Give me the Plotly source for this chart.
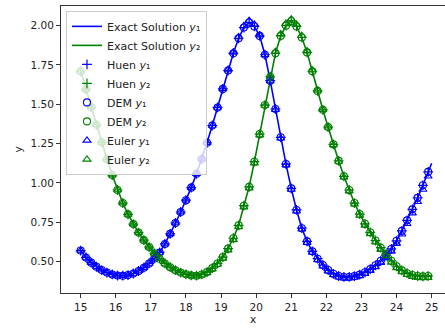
import plotly.graph_objects as go

# marker grid (step 0.15)
x_pts = [15.0, 15.15, 15.3, 15.45, 15.6, 15.75, 15.9, 16.05, 16.2, 16.35,
         16.5, 16.65, 16.8, 16.95, 17.1, 17.25, 17.4, 17.55, 17.7, 17.85,
         18.0, 18.15, 18.3, 18.45, 18.6, 18.75, 18.9, 19.05, 19.2, 19.35,
         19.5, 19.65, 19.8, 19.95, 20.1, 20.25, 20.4, 20.55, 20.7, 20.85,
         21.0, 21.15, 21.3, 21.45, 21.6, 21.75, 21.9, 22.05, 22.2, 22.35,
         22.5, 22.65, 22.8, 22.95, 23.1, 23.25, 23.4, 23.55, 23.7, 23.85,
         24.0, 24.15, 24.3, 24.45, 24.6, 24.75, 24.9]

y1_vals = [0.570, 0.526, 0.493, 0.467, 0.446, 0.430, 0.418, 0.411, 0.410, 0.414,
           0.424, 0.440, 0.461, 0.488, 0.520, 0.558, 0.612, 0.676, 0.745, 0.815,
           0.890, 0.970, 1.058, 1.152, 1.255, 1.365, 1.480, 1.598, 1.715, 1.825,
           1.920, 1.988, 2.020, 1.995, 1.935, 1.815, 1.650, 1.470, 1.290, 1.120,
           0.965, 0.828, 0.712, 0.628, 0.565, 0.518, 0.478, 0.446, 0.422, 0.408,
           0.402, 0.402, 0.407, 0.417, 0.432, 0.452, 0.476, 0.505, 0.540, 0.580,
           0.632, 0.695, 0.762, 0.832, 0.905, 0.985, 1.070]

y2_vals = [1.710, 1.595, 1.482, 1.370, 1.258, 1.150, 1.050, 0.955, 0.872, 0.800,
           0.738, 0.684, 0.636, 0.592, 0.552, 0.518, 0.488, 0.464, 0.445, 0.430,
           0.419, 0.412, 0.410, 0.418, 0.433, 0.458, 0.488, 0.528, 0.582, 0.648,
           0.730, 0.855, 0.975, 1.135, 1.310, 1.495, 1.675, 1.825, 1.935, 2.000,
           2.030, 1.995, 1.925, 1.830, 1.710, 1.585, 1.465, 1.355, 1.245, 1.140,
           1.042, 0.955, 0.872, 0.802, 0.740, 0.686, 0.634, 0.588, 0.547, 0.505,
           0.470, 0.444, 0.426, 0.414, 0.408, 0.406, 0.408]

euler_y1 = [0.570, 0.526, 0.493, 0.467, 0.446, 0.430, 0.418, 0.411, 0.410, 0.414,
            0.424, 0.440, 0.461, 0.488, 0.520, 0.558, 0.612, 0.676, 0.745, 0.815,
            0.890, 0.970, 1.058, 1.152, 1.255, 1.365, 1.480, 1.598, 1.718, 1.830,
            1.928, 1.998, 2.032, 2.008, 1.940, 1.815, 1.648, 1.466, 1.284, 1.113,
            0.958, 0.820, 0.705, 0.620, 0.558, 0.510, 0.470, 0.438, 0.414, 0.400,
            0.394, 0.394, 0.399, 0.409, 0.423, 0.442, 0.465, 0.493, 0.526, 0.565,
            0.614, 0.674, 0.740, 0.808, 0.880, 0.958, 1.042]

euler_y2 = [1.710, 1.595, 1.482, 1.370, 1.258, 1.150, 1.050, 0.955, 0.872, 0.800,
            0.738, 0.684, 0.636, 0.592, 0.552, 0.518, 0.488, 0.464, 0.445, 0.430,
            0.418, 0.410, 0.407, 0.414, 0.428, 0.452, 0.481, 0.520, 0.572, 0.638,
            0.720, 0.845, 0.966, 1.126, 1.304, 1.492, 1.678, 1.834, 1.948, 2.014,
            2.042, 2.008, 1.936, 1.838, 1.716, 1.588, 1.466, 1.354, 1.242, 1.136,
            1.036, 0.948, 0.864, 0.793, 0.730, 0.676, 0.623, 0.576, 0.535, 0.494,
            0.460, 0.434, 0.416, 0.404, 0.398, 0.396, 0.397]

# exact solution: marker grid plus the final end point
exact_x = x_pts + [25.0]
exact_y1 = y1_vals + [1.125]
exact_y2 = y2_vals + [0.410]

x_ticks = [15, 16, 17, 18, 19, 20, 21, 22, 23, 24, 25]
y_ticks = [0.50, 0.75, 1.00, 1.25, 1.50, 1.75, 2.00]

BLUE = "#0000ff"
GREEN = "#008000"
SUBS = {1: "\u2081", 2: "\u2082"}


def sub(name, i):
    return f"{name} <i>y</i>{SUBS[i]}"


fig = go.Figure()
fig.add_trace(go.Scatter(x=exact_x, y=exact_y1, mode="lines",
                         line=dict(color=BLUE, width=1.6), name=sub("Exact Solution", 1)))
fig.add_trace(go.Scatter(x=exact_x, y=exact_y2, mode="lines",
                         line=dict(color=GREEN, width=1.6), name=sub("Exact Solution", 2)))
fig.add_trace(go.Scatter(x=x_pts, y=y1_vals, mode="markers", name=sub("Huen", 1),
                         marker=dict(symbol="cross-thin", size=7, color=BLUE,
                                     line=dict(color=BLUE, width=1.2))))
fig.add_trace(go.Scatter(x=x_pts, y=y2_vals, mode="markers", name=sub("Huen", 2),
                         marker=dict(symbol="cross-thin", size=7, color=GREEN,
                                     line=dict(color=GREEN, width=1.2))))
fig.add_trace(go.Scatter(x=x_pts, y=y1_vals, mode="markers", name=sub("DEM", 1),
                         marker=dict(symbol="circle-open", size=7, color=BLUE,
                                     line=dict(color=BLUE, width=1.1))))
fig.add_trace(go.Scatter(x=x_pts, y=y2_vals, mode="markers", name=sub("DEM", 2),
                         marker=dict(symbol="circle-open", size=7, color=GREEN,
                                     line=dict(color=GREEN, width=1.1))))
fig.add_trace(go.Scatter(x=x_pts, y=euler_y1, mode="markers", name=sub("Euler", 1),
                         marker=dict(symbol="triangle-up-open", size=7, color=BLUE,
                                     line=dict(color=BLUE, width=1.1))))
fig.add_trace(go.Scatter(x=x_pts, y=euler_y2, mode="markers", name=sub("Euler", 2),
                         marker=dict(symbol="triangle-up-open", size=7, color=GREEN,
                                     line=dict(color=GREEN, width=1.1))))

FONT = "DejaVu Sans"
fig.update_layout(
    width=445, height=332,
    margin=dict(l=61, r=0, t=6, b=39),
    plot_bgcolor="white", paper_bgcolor="white",
    font=dict(family=FONT, size=10.5, color="#222"),
    legend=dict(x=0.013, y=0.983, xanchor="left", yanchor="top",
                bgcolor="rgba(255,255,255,0.8)", bordercolor="#cccccc", borderwidth=1,
                font=dict(family=FONT, size=11, color="#222"), tracegroupgap=0),
)
fig.update_xaxes(range=[14.44, 25.38], tickvals=x_ticks, ticks="outside", ticklen=4,
                 tickcolor="#333", showline=True, linecolor="#333", linewidth=1,
                 mirror=True, showgrid=False, zeroline=False,
                 title=dict(text="x", standoff=4, font=dict(family=FONT, size=10.5)))
fig.update_yaxes(range=[0.30, 2.125], tickvals=y_ticks, tickformat=".2f", ticks="outside",
                 ticklen=4, tickcolor="#333", showline=True, linecolor="#333", linewidth=1,
                 showgrid=False, zeroline=False,
                 title=dict(text="y", standoff=5, font=dict(family=FONT, size=10.5)))

fig.write_html("out.html")
